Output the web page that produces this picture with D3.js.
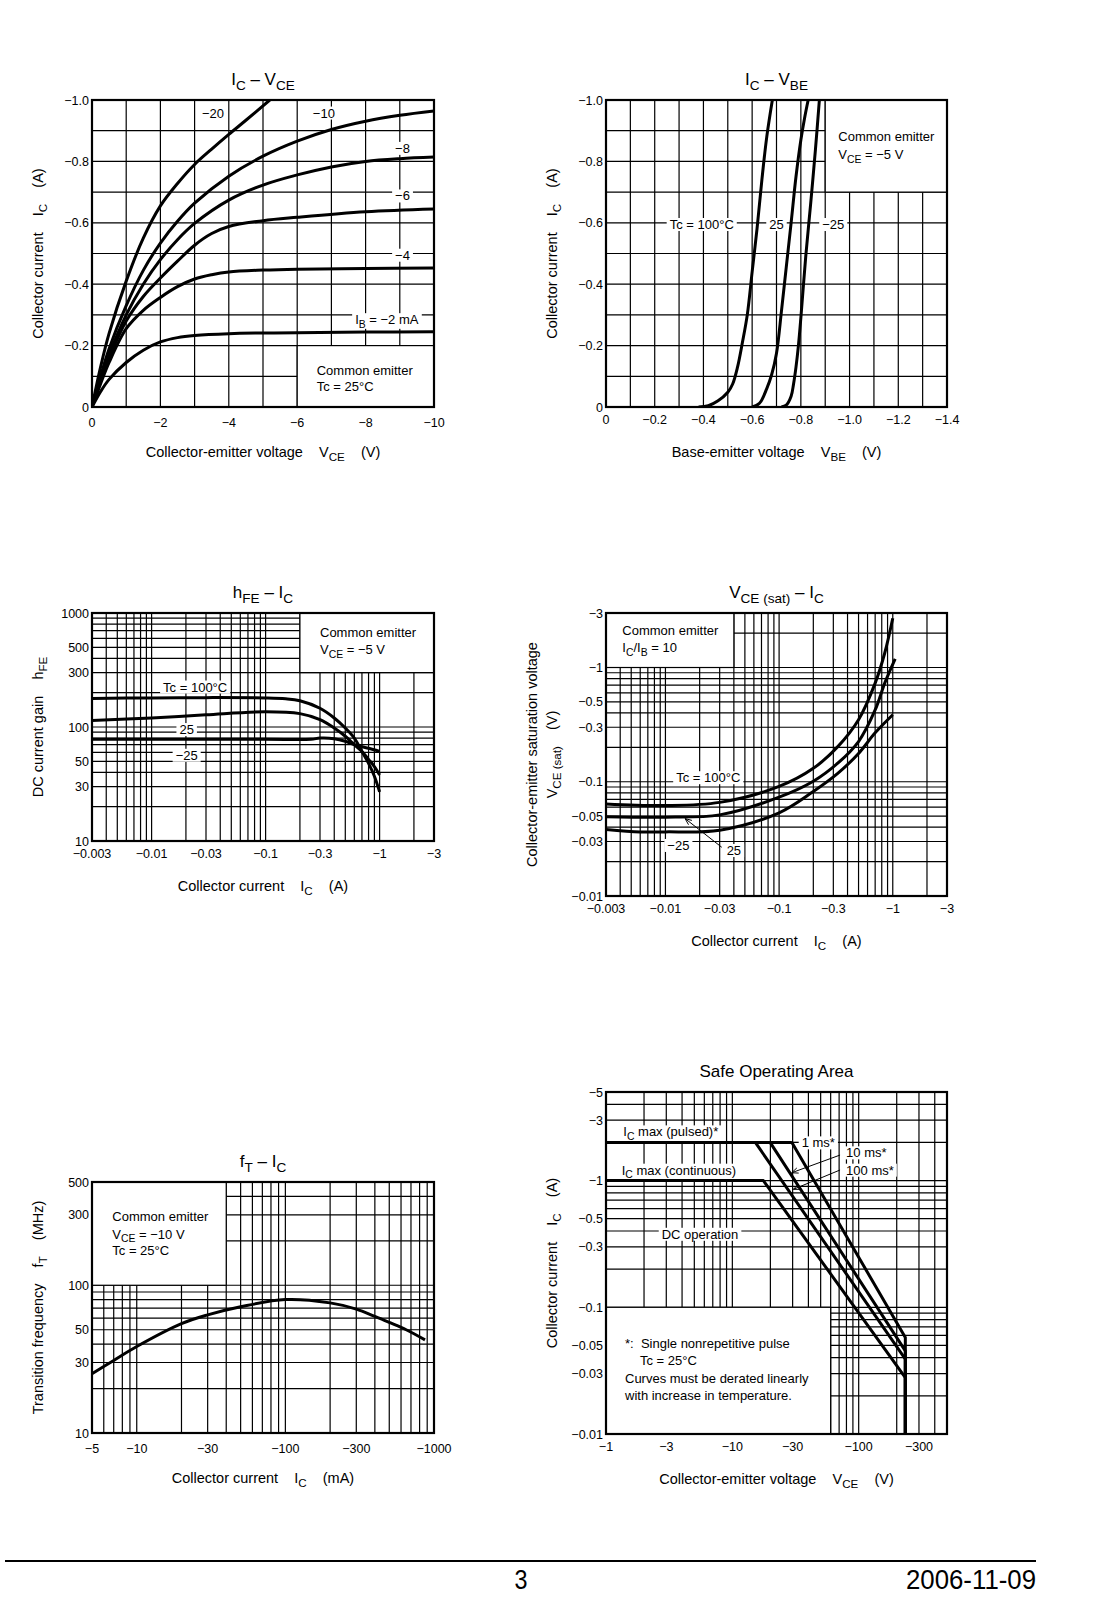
<!DOCTYPE html>
<html>
<head>
<meta charset="utf-8">
<script src="https://cdn.jsdelivr.net/npm/d3@7"></script>
<style>
  body { margin: 0; background: #fff; }
  svg { display: block; font-family: "Liberation Sans", Arial, sans-serif; }
  text { white-space: pre; }
</style>
</head>
<body>
<svg id="page" width="1109" height="1600"></svg>
<script>
// ---- IC - VCE (common emitter, Tc = 25°C); [ |VCE| V, |IC| A ]
const ib2  = [[0,0],[0.25,0.05],[0.5,0.09],[1,0.145],[1.5,0.185],[2,0.212],[2.5,0.226],[3,0.233],[4,0.239],[5,0.241],[6,0.242],[8,0.244],[10,0.245]];
const ib4  = [[0,0],[0.25,0.075],[0.5,0.145],[1,0.255],[1.5,0.315],[2,0.357],[2.5,0.392],[3,0.417],[3.5,0.431],[4,0.44],[5,0.446],[6,0.449],[8,0.451],[10,0.453]];
const ib6  = [[0,0],[0.25,0.085],[0.5,0.16],[1,0.28],[1.5,0.36],[2,0.42],[2.5,0.475],[3,0.527],[3.5,0.565],[4,0.588],[5,0.607],[6,0.618],[8,0.636],[10,0.645]];
const ib8  = [[0,0],[0.25,0.09],[0.5,0.17],[1,0.3],[1.5,0.4],[2,0.48],[2.5,0.545],[3,0.598],[4,0.674],[5,0.723],[6,0.756],[7,0.782],[8,0.8],[9,0.809],[10,0.814]];
const ib10 = [[0,0],[0.25,0.1],[0.5,0.19],[1,0.33],[1.5,0.445],[2,0.534],[2.5,0.605],[3,0.664],[4,0.752],[5,0.817],[6,0.866],[7,0.904],[8,0.931],[9,0.95],[10,0.964]];
const ib20 = [[0,0],[0.25,0.13],[0.5,0.24],[1,0.41],[1.5,0.55],[2,0.655],[2.5,0.728],[3,0.79],[3.5,0.84],[4,0.888],[4.5,0.934],[5.2,1.0]];

// ---- IC - VBE (VCE = -5 V); [ |VBE| V, |IC| A ]
const vbe100 = [[0.38,0],[0.42,0.004],[0.46,0.02],[0.5,0.048],[0.52,0.075],[0.54,0.13],[0.56,0.21],[0.58,0.3],[0.6,0.44],[0.62,0.58],[0.64,0.74],[0.66,0.88],[0.683,1.0]];
const vbe25  = [[0.6,0],[0.63,0.012],[0.66,0.06],[0.68,0.105],[0.7,0.175],[0.72,0.31],[0.74,0.455],[0.76,0.6],[0.78,0.75],[0.8,0.87],[0.815,0.94],[0.83,1.0]];
const vbeM25 = [[0.72,0],[0.74,0.006],[0.76,0.035],[0.77,0.075],[0.78,0.13],[0.79,0.2],[0.8,0.29],[0.82,0.49],[0.84,0.66],[0.86,0.84],[0.876,1.0]];

// ---- hFE - IC (VCE = -5 V); [ |IC| A, hFE ]
const hfe100 = [[0.003,178],[0.01,180],[0.03,181],[0.1,180],[0.15,177],[0.2,170],[0.3,146],[0.4,120],[0.5,98],[0.6,80],[0.7,61],[0.8,48],[0.9,37],[1.0,27]];
const hfe25  = [[0.003,114],[0.01,120],[0.03,128],[0.1,136],[0.2,131],[0.3,116],[0.4,98],[0.5,83],[0.6,70],[0.7,61],[0.8,52],[0.9,45],[1.0,38]];
const hfeM25 = [[0.003,78],[0.01,78],[0.1,78],[0.25,78],[0.3,80],[0.4,79],[0.5,75],[0.6,70],[0.7,67],[0.8,65],[1.0,61]];

// ---- VCE(sat) - IC (IC/IB = 10); [ |IC| A, |VCE(sat)| V ]
const sat100 = [[0.003,0.064],[0.01,0.062],[0.03,0.066],[0.1,0.091],[0.2,0.131],[0.33,0.204],[0.5,0.349],[0.7,0.73],[0.85,1.34],[1.0,2.7]];
const sat25  = [[0.003,0.0495],[0.01,0.049],[0.03,0.0513],[0.1,0.0733],[0.2,0.101],[0.33,0.146],[0.5,0.225],[0.7,0.425],[0.85,0.73],[1.05,1.19]];
const satM25 = [[0.003,0.0383],[0.006,0.0364],[0.01,0.0364],[0.03,0.0377],[0.1,0.0535],[0.2,0.0822],[0.33,0.119],[0.5,0.177],[0.7,0.268],[1.0,0.386]];

// ---- fT - IC (VCE = -10 V); [ |IC| mA, fT MHz ]
const ftCurve = [[5,25.2],[7,31],[10,38.5],[20,55],[30,63],[50,71.5],[100,80],[200,76],[300,69],[400,61.5],[500,56],[650,50],[870,42.7]];

// ---- Safe operating area; [ |VCE| V, |IC| A ]
const soaPulsedMax = [[1,2],[29.6,2]];
const soa1ms   = [[29.6,2],[234,0.0578],[234,0.01]];
const soa10ms  = [[19.9,2],[234,0.0453],[234,0.01]];
const soa100ms = [[15.2,2],[234,0.039],[234,0.01]];
const soaDC    = [[1,1],[17.6,1],[234,0.0279],[234,0.01]];

// ---- tick labels
const ticks1X = [0, 2, 4, 6, 8, 10];
const ticks1Y = [0, 0.2, 0.4, 0.6, 0.8, 1.0];
const ticks2X = [0, 0.2, 0.4, 0.6, 0.8, 1.0, 1.2, 1.4];
const ticksIC = [0.003, 0.01, 0.03, 0.1, 0.3, 1, 3];
const ticks3Y = [10, 30, 50, 100, 300, 500, 1000];
const ticks4Y = [0.01, 0.03, 0.05, 0.1, 0.3, 0.5, 1, 3];
const ticks5X = [5, 10, 30, 100, 300, 1000];
const ticks5Y = [10, 30, 50, 100, 300, 500];
const ticks6X = [1, 3, 10, 30, 100, 300];
const ticks6Y = [0.01, 0.03, 0.05, 0.1, 0.3, 0.5, 1, 3, 5];

const MINUS = "\u2212";
const neg = d => d === 0 ? "0" : MINUS + d;
const neg1 = d => d === 0 ? "0" : MINUS + d.toFixed(1);
const plain = d => "" + d;
const smooth = d3.curveCatmullRom.alpha(0.5);

const svg = d3.select("#page");
const defs = svg.append("defs");
let clipN = 0;

// text with _{sub} subscripts
function rich(sel, str, fs) {
  const parts = str.split(/(_\{[^}]*\})/).filter(s => s.length);
  let down = false;
  parts.forEach(p => {
    const sub = p.startsWith("_{");
    const t = sel.append("tspan").text(sub ? p.slice(2, -1) : p);
    if (sub) { t.attr("font-size", fs * 0.8).attr("dy", fs * 0.28); down = true; }
    else if (down) { t.attr("dy", -fs * 0.28); down = false; }
  });
  return sel;
}

function txt(parent, x, y, str, fs, anchor) {
  const t = parent.append("text")
    .attr("xml:space", "preserve")
    .attr("x", x).attr("y", y)
    .attr("font-size", fs)
    .attr("text-anchor", anchor || "start")
    .attr("fill", "#000");
  return rich(t, str, fs);
}

function makeChart(o) {
  const g = svg.append("g");
  const x = o.x.range([o.left, o.left + o.w]);
  const y = o.y.range([o.top + o.h, o.top]);
  const [x0, x1] = x.domain(), [y0, y1] = y.domain();
  const bottom = o.top + o.h, right = o.left + o.w;

  const id = "clip" + (++clipN);
  defs.append("clipPath").attr("id", id).append("rect")
    .attr("x", o.left).attr("y", o.top).attr("width", o.w).attr("height", o.h);

  const gx = o.gridX.filter(d => d > x0 * 1.0001 && d < x1 * 0.9999);
  const gy = o.gridY.filter(d => d > y0 * 1.0001 && d < y1 * 0.9999);
  const grid = g.append("g").attr("stroke", "#000").attr("stroke-width", 1.2);
  grid.selectAll(".vx").data(gx).join("line")
    .attr("x1", d => x(d)).attr("x2", d => x(d))
    .attr("y1", o.top).attr("y2", bottom);
  grid.selectAll(".hy").data(gy).join("line")
    .attr("y1", d => y(d)).attr("y2", d => y(d))
    .attr("x1", o.left).attr("x2", right);

  if (o.box) {
    const [bx0, bx1, by0, by1] = o.box;
    g.append("rect")
      .attr("x", x(bx0)).attr("y", y(by1))
      .attr("width", x(bx1) - x(bx0)).attr("height", y(by0) - y(by1))
      .attr("fill", "#fff").attr("stroke", "#000").attr("stroke-width", 1.2);
  }

  // tick labels
  g.append("g").selectAll("text").data(o.xTicks).join("text")
    .attr("x", d => x(d)).attr("y", bottom + o.xLabOff)
    .attr("text-anchor", "middle").attr("font-size", 12.5)
    .text(o.xFmt);
  g.append("g").selectAll("text").data(o.yTicks).join("text")
    .attr("x", o.left - 3).attr("y", d => y(d)).attr("dy", "0.36em")
    .attr("text-anchor", "end").attr("font-size", 12.5)
    .text(o.yFmt);

  // titles
  txt(g, o.left + o.w / 2, o.top - 15, o.title, 17, "middle");
  txt(g, o.left + o.w / 2, bottom + 50, o.xTitle, 14.5, "middle");
  o.yTitle.forEach((line, i) => {
    const cx = o.yTitleX[i] + 5;
    txt(g, 0, 0, line, 14.5, "middle")
      .attr("transform", `translate(${cx},${o.top + o.h / 2}) rotate(-90)`);
  });

  const labels = g.append("g");
  const plot = g.append("g").attr("clip-path", `url(#${id})`);
  const frame = () => g.append("rect")
    .attr("x", o.left).attr("y", o.top).attr("width", o.w).attr("height", o.h)
    .attr("fill", "none").attr("stroke", "#000").attr("stroke-width", 2.2);
  return { g, x, y, labels, plot, frame };
}

function curve(c, data, kind) {
  c.plot.append("path").datum(data)
    .attr("d", d3.line().x(d => c.x(d[0])).y(d => c.y(d[1])).curve(kind || smooth))
    .attr("fill", "none").attr("stroke", "#000")
    .attr("stroke-width", 3).attr("stroke-linejoin", "round");
}

// label with white backing, positioned in data units
function tag(c, dx, dy, str, anchor) {
  const t = txt(c.labels, c.x(dx), c.y(dy), str, 13, anchor || "middle").attr("dy", "0.36em");
  const b = t.node().getBBox();
  c.labels.insert("rect", () => t.node())
    .attr("x", b.x - 3).attr("y", b.y + 1).attr("width", b.width + 6).attr("height", b.height - 2)
    .attr("fill", "#fff");
  return t;
}

function arrow(c, from, to) {
  const x1 = c.x(from[0]), y1 = c.y(from[1]), x2 = c.x(to[0]), y2 = c.y(to[1]);
  const a = Math.atan2(y1 - y2, x1 - x2), L = 7, s = 0.4;
  const p = d3.path();
  p.moveTo(x1, y1); p.lineTo(x2, y2);
  p.moveTo(x2 + L * Math.cos(a + s), y2 + L * Math.sin(a + s)); p.lineTo(x2, y2);
  p.lineTo(x2 + L * Math.cos(a - s), y2 + L * Math.sin(a - s));
  c.labels.append("path").attr("d", p.toString())
    .attr("fill", "none").attr("stroke", "#000").attr("stroke-width", 1);
}

// ===== 1: IC - VCE
const c1 = makeChart({
  left: 92, top: 100, w: 342, h: 307,
  x: d3.scaleLinear().domain([0, 10]), y: d3.scaleLinear().domain([0, 1]),
  gridX: d3.range(1, 10), gridY: d3.range(1, 10).map(i => i / 10),
  box: [6, 10, 0, 0.2],
  xTicks: ticks1X, yTicks: ticks1Y, xFmt: neg, yFmt: neg1, xLabOff: 19.5,
  title: "I_{C} – V_{CE}",
  xTitle: "Collector-emitter voltage    V_{CE}    (V)",
  yTitle: ["Collector current    I_{C}    (A)"], yTitleX: [38]
});
txt(c1.g, 316.7, 374.5, "Common emitter", 13);
txt(c1.g, 316.7, 391, "Tc = 25°C", 13);
tag(c1, 3.54, 0.958, MINUS + "20");
tag(c1, 6.78, 0.958, MINUS + "10");
tag(c1, 9.08, 0.843, MINUS + "8");
tag(c1, 9.08, 0.688, MINUS + "6");
tag(c1, 9.08, 0.495, MINUS + "4");
tag(c1, 8.62, 0.285, "I_{B} = " + MINUS + "2 mA");
[ib2, ib4, ib6, ib8, ib10, ib20].forEach(s => curve(c1, s));
c1.frame();

// ===== 2: IC - VBE
const c2 = makeChart({
  left: 606, top: 100, w: 341, h: 307,
  x: d3.scaleLinear().domain([0, 1.4]), y: d3.scaleLinear().domain([0, 1]),
  gridX: d3.range(1, 14).map(i => i / 10), gridY: d3.range(1, 10).map(i => i / 10),
  box: [0.9, 1.4, 0.7, 1.0],
  xTicks: ticks2X, yTicks: ticks1Y, xFmt: neg1, yFmt: neg1, xLabOff: 17,
  title: "I_{C} – V_{BE}",
  xTitle: "Base-emitter voltage    V_{BE}    (V)",
  yTitle: ["Collector current    I_{C}    (A)"], yTitleX: [551.7]
});
txt(c2.g, 838.3, 141, "Common emitter", 13);
txt(c2.g, 838.3, 159, "V_{CE} = " + MINUS + "5 V", 13);
tag(c2, 0.393, 0.595, "Tc = 100°C");
tag(c2, 0.70, 0.595, "25");
tag(c2, 0.933, 0.595, MINUS + "25");
[vbe100, vbe25, vbeM25].forEach(s => curve(c2, s));
c2.frame();

// ===== 3: hFE - IC
const x3 = d3.scaleLog().domain([0.003, 3]), y3 = d3.scaleLog().domain([10, 1000]);
const c3 = makeChart({
  left: 92, top: 613, w: 342, h: 228,
  x: x3, y: y3, gridX: x3.ticks(), gridY: y3.ticks(),
  box: [0.2, 3, 300, 1000],
  xTicks: ticksIC, yTicks: ticks3Y, xFmt: neg, yFmt: plain, xLabOff: 16.5,
  title: "h_{FE} – I_{C}",
  xTitle: "Collector current    I_{C}    (A)",
  yTitle: ["DC current gain    h_{FE}"], yTitleX: [38.3]
});
txt(c3.g, 320, 637, "Common emitter", 13);
txt(c3.g, 320, 654, "V_{CE} = " + MINUS + "5 V", 13);
tag(c3, 0.0241, 225, "Tc = 100°C");
tag(c3, 0.0203, 95.3, "25");
tag(c3, 0.0203, 56.7, MINUS + "25");
[hfe100, hfe25, hfeM25].forEach(s => curve(c3, s));
c3.frame();

// ===== 4: VCE(sat) - IC
const x4 = d3.scaleLog().domain([0.003, 3]), y4 = d3.scaleLog().domain([0.01, 3]);
const c4 = makeChart({
  left: 606, top: 613, w: 341, h: 283,
  x: x4, y: y4, gridX: x4.ticks(), gridY: y4.ticks(),
  box: [0.003, 0.04, 1, 3],
  xTicks: ticksIC, yTicks: ticks4Y, xFmt: neg, yFmt: neg, xLabOff: 17,
  title: "V_{CE (sat)} – I_{C}",
  xTitle: "Collector current    I_{C}    (A)",
  yTitle: ["Collector-emitter saturation voltage", "V_{CE (sat)}    (V)"], yTitleX: [531.7, 551.7]
});
txt(c4.g, 622.3, 635, "Common emitter", 13);
txt(c4.g, 622.3, 652, "I_{C}/I_{B} = 10", 13);
tag(c4, 0.0238, 0.1089, "Tc = 100°C");
tag(c4, 0.013, 0.0278, MINUS + "25");
tag(c4, 0.04, 0.0251, "25");
arrow(c4, [0.0313, 0.0267], [0.0149, 0.0476]);
[sat100, sat25, satM25].forEach(s => curve(c4, s));
c4.frame();

// ===== 5: fT - IC
const x5 = d3.scaleLog().domain([5, 1000]), y5 = d3.scaleLog().domain([10, 500]);
const c5 = makeChart({
  left: 92, top: 1182, w: 342, h: 251,
  x: x5, y: y5, gridX: x5.ticks(), gridY: y5.ticks(),
  box: [5, 40, 100, 500],
  xTicks: ticks5X, yTicks: ticks5Y, xFmt: neg, yFmt: plain, xLabOff: 19.5,
  title: "f_{T} – I_{C}",
  xTitle: "Collector current    I_{C}    (mA)",
  yTitle: ["Transition frequency    f_{T}    (MHz)"], yTitleX: [38.3]
});
txt(c5.g, 112.3, 1221, "Common emitter", 13);
txt(c5.g, 112.3, 1238.5, "V_{CE} = " + MINUS + "10 V", 13);
txt(c5.g, 112.3, 1255, "Tc = 25°C", 13);
curve(c5, ftCurve);
c5.frame();

// ===== 6: Safe Operating Area
const x6 = d3.scaleLog().domain([1, 500]), y6 = d3.scaleLog().domain([0.01, 5]);
const c6 = makeChart({
  left: 606, top: 1092, w: 341, h: 342,
  x: x6, y: y6, gridX: x6.ticks(), gridY: y6.ticks(),
  box: [1, 60, 0.01, 0.1],
  xTicks: ticks6X, yTicks: ticks6Y, xFmt: neg, yFmt: neg, xLabOff: 17,
  title: "Safe Operating Area",
  xTitle: "Collector-emitter voltage    V_{CE}    (V)",
  yTitle: ["Collector current    I_{C}    (A)"], yTitleX: [551.7]
});
txt(c6.g, 625, 1348, "*:  Single nonrepetitive pulse", 13);
txt(c6.g, 640, 1365, "Tc = 25°C", 13);
txt(c6.g, 625, 1383, "Curves must be derated linearly", 13);
txt(c6.g, 625, 1400, "with increase in temperature.", 13);
tag(c6, 1.371, 2.43, "I_{C} max (pulsed)*", "start");
tag(c6, 1.331, 1.212, "I_{C} max (continuous)", "start");
tag(c6, 5.55, 0.378, "DC operation");
c6.labels.append("line")
  .attr("x1", c6.x(29.6)).attr("x2", c6.x(35.4)).attr("y1", c6.y(2)).attr("y2", c6.y(2))
  .attr("stroke", "#000").attr("stroke-width", 1);
tag(c6, 35.4, 1.99, "1 ms*", "start");
tag(c6, 79.5, 1.66, "10 ms*", "start");
tag(c6, 79.5, 1.212, "100 ms*", "start");
arrow(c6, [71.2, 1.59], [29.5, 1.153]);
arrow(c6, [71.2, 1.212], [30.4, 0.853]);
[soaPulsedMax, soa1ms, soa10ms, soa100ms, soaDC].forEach(s => curve(c6, s, d3.curveLinear));
c6.frame();

// ===== footer
svg.append("line").attr("x1", 5).attr("x2", 1036).attr("y1", 1561).attr("y2", 1561)
  .attr("stroke", "#000").attr("stroke-width", 2);
svg.append("text").attr("x", 521).attr("y", 1589).attr("text-anchor", "middle")
  .attr("font-size", 27).attr("textLength", 13).attr("lengthAdjust", "spacingAndGlyphs").text("3");
svg.append("text").attr("x", 1036).attr("y", 1589).attr("text-anchor", "end")
  .attr("font-size", 27).attr("textLength", 130).attr("lengthAdjust", "spacingAndGlyphs").text("2006-11-09");
</script>
</body>
</html>
